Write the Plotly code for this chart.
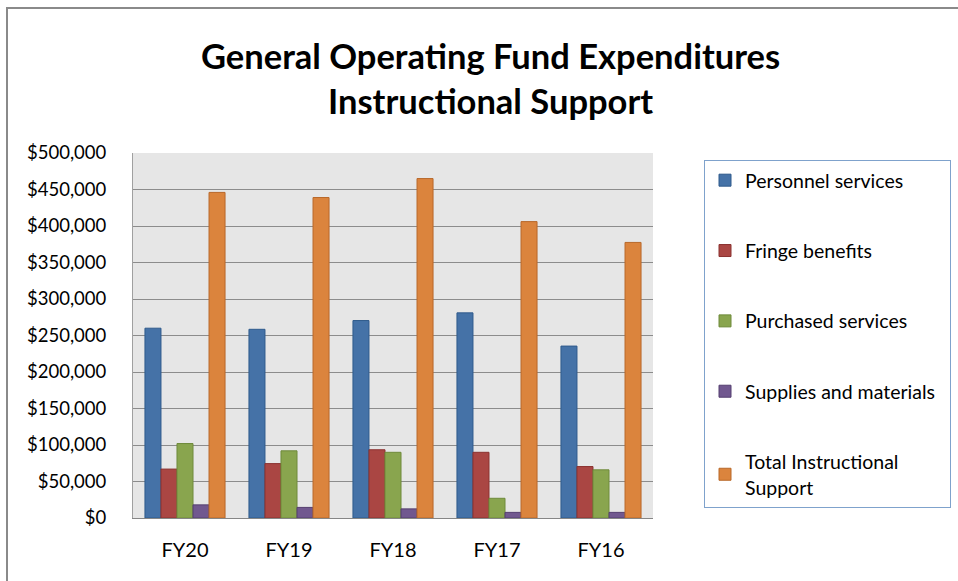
import plotly.graph_objects as go

categories = ["FY20", "FY19", "FY18", "FY17", "FY16"]
personnel = [260000, 258500, 270500, 281000, 235500]
fringe = [67000, 74500, 93500, 90000, 70500]
purchased = [102000, 92000, 90000, 27000, 66000]
supplies = [18000, 14500, 12500, 7700, 7700]
total = [446000, 439000, 465000, 406000, 377500]

series_names = ["Personnel services", "Fringe benefits", "Purchased services",
                "Supplies and materials\u00a0\u00a0", "Total Instructional<br>Support"]
series_values = [personnel, fringe, purchased, supplies, total]
fill_colors = ["#4572A7", "#AA4643", "#89A54E", "#71588F", "#DB843D"]
line_colors = ["#2F5A8C", "#8B3230", "#6E8A3A", "#553F70", "#B8682A"]

fig = go.Figure()
for i, (name, vals) in enumerate(zip(series_names, series_values)):
    fig.add_trace(go.Bar(
        x=categories, y=vals, name=name,
        marker=dict(color=fill_colors[i], line=dict(color=line_colors[i], width=1)),
        legendgroup=f"g{i}",
    ))

font_family = "Lato, 'Open Sans', sans-serif"
fig.update_layout(
    width=958, height=581,
    margin=dict(l=133, r=305, t=153, b=63, autoexpand=False),
    paper_bgcolor="white",
    plot_bgcolor="#E6E6E6",
    barmode="group",
    bargap=0.23,
    bargroupgap=0,
    font=dict(family=font_family, color="black"),
    xaxis=dict(
        showgrid=False, showline=True, linecolor="#868686", linewidth=1,
        tickfont=dict(size=20), ticks="", ticklabelstandoff=14,
    ),
    yaxis=dict(
        range=[0, 500000], dtick=50000, tickformat="$,.0f",
        showgrid=True, gridcolor="#8C8C8C", gridwidth=1,
        showline=True, linecolor="#A0A0A0", linewidth=1,
        ticks="", ticklabelstandoff=22,
        tickfont=dict(size=18.5), zeroline=False,
    ),
    legend=dict(
        x=(704 - 133) / 520, xanchor="left",
        y=(518 - 160) / 365, yanchor="top",
        bordercolor="#7FA2CC", borderwidth=1,
        font=dict(size=19.5),
        tracegroupgap=42,
        bgcolor="white",
    ),
    showlegend=True,
)

fig.add_annotation(
    text="<b>General Operating Fund Expenditures<br>Instructional Support</b>",
    xref="paper", yref="paper",
    x=(490 - 133) / 520, xanchor="center",
    y=(518 - 78) / 365, yanchor="middle",
    showarrow=False, font=dict(size=34.5, family=font_family, color="black"),
)

fig.add_shape(type="rect", xref="paper", yref="paper",
              x0=(7 - 133) / 520, x1=1.8, y0=-0.5, y1=(518 - 8) / 365,
              line=dict(color="#8A8A8A", width=2), fillcolor="rgba(0,0,0,0)",
              layer="below")

fig.write_html("out.html", config={"displayModeBar": False},
               post_script="document.body.style.margin='0';")
